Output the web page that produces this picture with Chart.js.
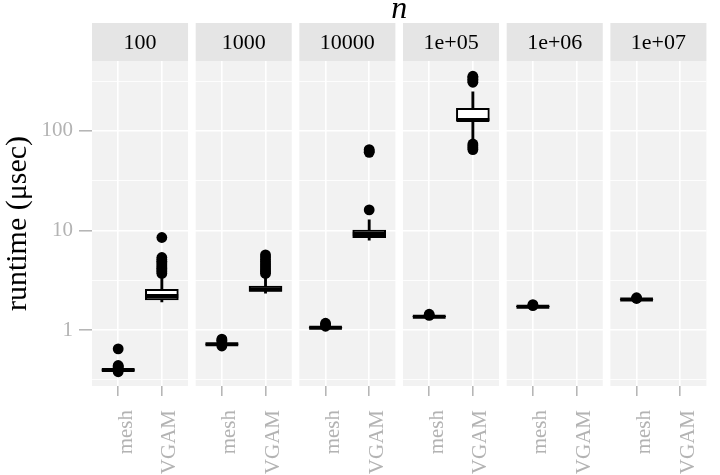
<!DOCTYPE html>
<html><head><meta charset="utf-8">
<script src="https://cdn.jsdelivr.net/npm/chart.js@4/dist/chart.umd.min.js"></script>
<style>html,body{margin:0;padding:0;background:#fff}</style>
</head><body>
<canvas id="c" width="720" height="475"></canvas>
<script>
// ---- data ----
const facets = ['100', '1000', '10000', '1e+05', '1e+06', '1e+07'];
const methods = ['mesh', 'VGAM'];
const yTickValues = [1, 10, 100];
const yMinorValues = [0.3162, 3.162, 31.62, 316.2];

const meshLow    = [0.386, 0.705, 1.035, 1.345, 1.695, 2.005];
const meshQ1     = [0.392, 0.715, 1.045, 1.352, 1.705, 2.02];
const meshMedian = [0.396, 0.72, 1.054, 1.36, 1.715, 2.03];
const meshQ3     = [0.401, 0.726, 1.062, 1.37, 1.725, 2.04];
const meshHigh   = [0.414, 0.745, 1.08, 1.385, 1.745, 2.06];
const meshOutliers = [[0.38, 0.42, 0.43, 0.44, 0.645], [0.69, 0.76, 0.79, 0.81], [1.09, 1.13, 1.17], [1.40, 1.44], [1.76, 1.80], [2.07, 2.11]];

const vgamLow    = [1.92, 2.34, 8.0, 83, null, null];
const vgamQ1     = [2.0, 2.44, 8.45, 126, null, null];
const vgamMedian = [2.2, 2.55, 9.2, 129, null, null];
const vgamQ3     = [2.56, 2.77, 10.1, 169, null, null];
const vgamHigh   = [3.5, 3.5, 12.8, 248, null, null];
const vgamOutliers = [[3.7, 3.85, 4.0, 4.15, 4.3, 4.5, 4.7, 4.9, 5.1, 5.35, 8.5],
                      [3.7, 3.85, 4.0, 4.2, 4.4, 4.6, 4.85, 5.1, 5.4, 5.7],
                      [16.1, 61, 63, 65],
                      [65, 68, 71, 74, 309, 320, 332, 344, 355], [], []];

// ---- facet layout (axis units) ----
const STEP = 2.375, SPAN = 2.2, OFFS = [0.6, 1.6], HALF = 0.375;
const FONT = "'Liberation Serif', 'Times New Roman', serif";
const GREY = '#b3b3b3', PANEL_BG = '#f2f2f2', STRIP_BG = '#e5e5e5';
const catX = (fi, mi) => fi * STEP + OFFS[mi];

const stats = [
  {low: meshLow, q1: meshQ1, med: meshMedian, q3: meshQ3, high: meshHigh, out: meshOutliers},
  {low: vgamLow, q1: vgamQ1, med: vgamMedian, q3: vgamQ3, high: vgamHigh, out: vgamOutliers}
];
const boxData = [], whiskerData = [], medianData = [], outlierData = [];
stats.forEach((s, mi) => facets.forEach((f, fi) => {
  if (s.med[fi] == null) return;
  const cx = catX(fi, mi);
  boxData.push({x: cx, y: [s.q1[fi], s.q3[fi]]});
  whiskerData.push({x: cx, y: [s.low[fi], s.q1[fi]]}, {x: cx, y: [s.q3[fi], s.high[fi]]});
  medianData.push({x: cx - HALF, y: s.med[fi]}, {x: cx + HALF, y: s.med[fi]}, {x: cx, y: null});
  s.out[fi].forEach(v => outlierData.push({x: cx, y: v}));
}));

const xTicks = [];
facets.forEach((f, fi) => methods.forEach((m, mi) => xTicks.push(catX(fi, mi))));
const stripTicks = facets.map((f, fi) => fi * STEP + SPAN / 2);
const xMax = (facets.length - 1) * STEP + SPAN;

const facetPanels = {
  id: 'facetPanels',
  beforeDraw(chart) {
    const {ctx, chartArea, scales} = chart;
    const x = scales.x, top = scales.x2.top;
    ctx.save();
    facets.forEach((f, fi) => {
      const x0 = x.getPixelForValue(fi * STEP), x1 = x.getPixelForValue(fi * STEP + SPAN);
      ctx.fillStyle = PANEL_BG;
      ctx.fillRect(x0, chartArea.top, x1 - x0, chartArea.bottom - chartArea.top);
      ctx.fillStyle = STRIP_BG;
      ctx.fillRect(x0, top, x1 - x0, chartArea.top - top);
    });
    ctx.restore();
  }
};

new Chart(document.getElementById('c'), {
  type: 'scatter',
  data: {
    datasets: [
      {type: 'scatter', label: 'outliers', data: outlierData, order: 0, showLine: false,
       pointRadius: 5.4, pointBackgroundColor: '#000', pointBorderWidth: 0, backgroundColor: '#000'},
      {type: 'line', label: 'median', data: medianData, order: 1, showLine: true, spanGaps: false,
       borderColor: '#000', borderWidth: 4, borderCapStyle: 'butt', pointRadius: 0, tension: 0, fill: false},
      {type: 'bar', label: 'box', data: boxData, order: 2, grouped: false, barThickness: 33,
       backgroundColor: '#fff', borderColor: '#000', borderWidth: 2, borderSkipped: false},
      {type: 'bar', label: 'whisker', data: whiskerData, order: 3, grouped: false, barThickness: 2.2,
       backgroundColor: '#000', borderWidth: 0}
    ]
  },
  options: {
    responsive: false,
    animation: false,
    layout: {padding: {left: 0, right: 1, top: 0, bottom: 0}},
    plugins: {
      legend: {display: false},
      tooltip: {enabled: false},
      title: {display: true, text: 'n', fullSize: false, color: '#000',
              font: {family: FONT, style: 'italic', weight: 'normal', size: 32, lineHeight: 0.4},
              padding: {top: 3, bottom: 7.2}}
    },
    scales: {
      x: {
        type: 'linear', position: 'bottom', min: 0, max: xMax, bounds: 'data', offset: false,
        afterBuildTicks: s => { s.ticks = xTicks.map(v => ({value: v})); },
        afterFit: s => { s.height = 89; },
        ticks: {autoSkip: false, minRotation: 90, maxRotation: 90, color: GREY, padding: 14, labelOffset: 8,
                font: {family: FONT, size: 21},
                callback: (v, i) => methods[i % methods.length]},
        grid: {color: '#fff', lineWidth: 1.6, tickColor: GREY, tickLength: 10, tickWidth: 1.5, offset: false},
        border: {display: false}
      },
      x2: {
        type: 'linear', position: 'top', min: 0, max: xMax, bounds: 'data', offset: false,
        afterBuildTicks: s => { s.ticks = stripTicks.map(v => ({value: v})); },
        afterFit: s => { s.height = 38; },
        ticks: {autoSkip: false, maxRotation: 0, minRotation: 0, color: '#000', padding: 5,
                font: {family: FONT, size: 22},
                callback: (v, i) => facets[i]},
        grid: {display: false, drawTicks: false},
        border: {display: false}
      },
      y: {
        type: 'logarithmic', position: 'left', min: 0.2736, max: 505, bounds: 'data',
        afterBuildTicks: s => {
          s.ticks = yMinorValues.concat(yTickValues).sort((a, b) => a - b).map(v => ({value: v}));
        },
        afterFit: s => { s.width = 92; },
        ticks: {autoSkip: false, color: GREY, padding: 6, font: {family: FONT, size: 21},
                callback: v => yTickValues.includes(v) ? String(v) : ''},
        grid: {
          color: '#fff',
          lineWidth: c => (c.tick && yTickValues.includes(c.tick.value)) ? 1.6 : 0.8,
          tickColor: c => (c.tick && yTickValues.includes(c.tick.value)) ? GREY : 'rgba(0,0,0,0)',
          tickLength: 13, tickWidth: 1.5
        },
        border: {display: false},
        title: {display: true, text: 'runtime (μsec)', color: '#000', padding: 0,
                font: {family: FONT, size: 30}}
      }
    }
  },
  plugins: [facetPanels]
});
</script>
</body></html>
